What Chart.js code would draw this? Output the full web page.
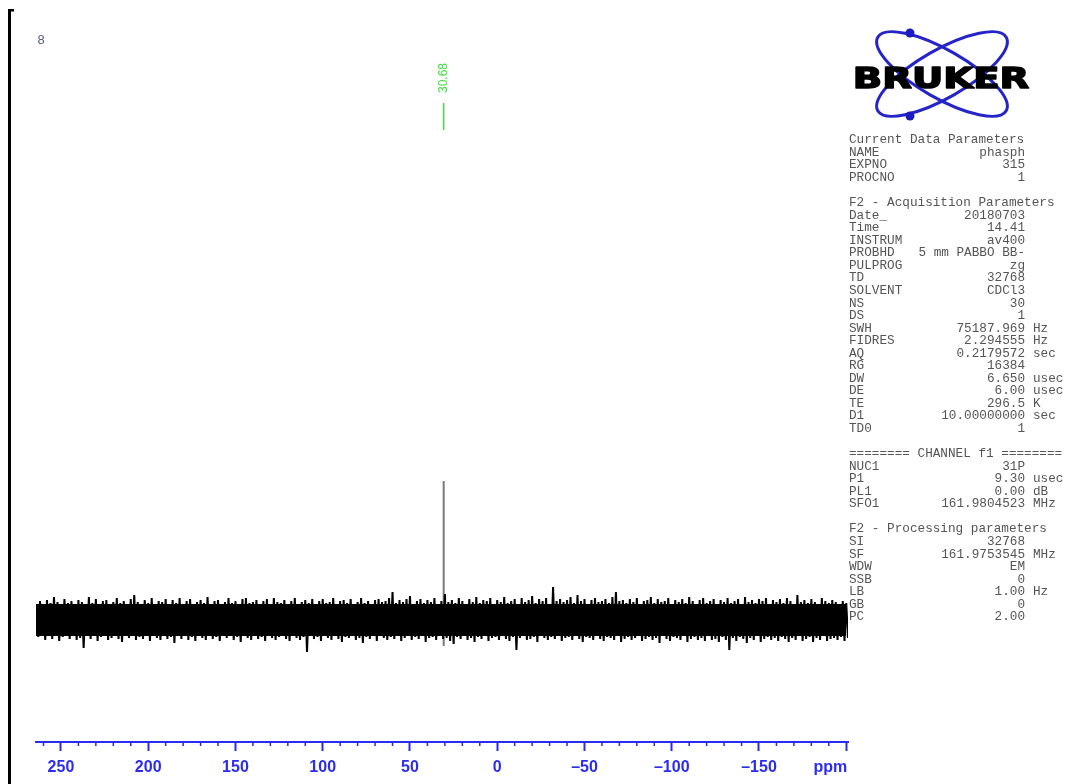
<!DOCTYPE html>
<html>
<head>
<meta charset="utf-8">
<script src="https://cdn.jsdelivr.net/npm/chart.js@4.4.1/dist/chart.umd.min.js"></script>
<style>
  html, body { margin: 0; padding: 0; background: #fff; }
  canvas { display: block; }
</style>
</head>
<body>
<canvas id="spectrum" width="1077" height="784"></canvas>
<script>
"use strict";

// ppm window of the plot (axis runs high -> low)
const ppmMax = 264.3;
const ppmMin = -201;

// noise band, one sample every 2 ppm from 264 down to -200
const noiseStart = 264;
const noiseStep = 2;
const noiseHi = [
    1.6, 1.9, 1.5, 2.0, 1.7, 2.3, 1.8, 1.6, 2.1, 1.7,
    1.9, 1.5, 2.0, 1.8, 1.6, 2.3, 1.7, 2.1, 1.6, 1.9,
    2.0, 1.5, 1.8, 2.2, 1.7, 1.9, 1.6, 2.1, 2.5, 1.8,
    1.6, 2.0, 1.7, 2.2, 1.5, 1.9, 1.8, 2.1, 1.6, 2.0,
    1.7, 2.2, 1.6, 1.9, 2.1, 1.5, 1.8, 2.0, 1.7, 2.3,
    1.6, 1.9, 2.0, 1.5, 1.8, 2.2, 1.7, 1.9, 1.6, 2.1,
    2.2, 1.7, 1.8, 2.0, 1.5, 1.9, 2.1, 1.6, 2.2, 1.8,
    1.7, 2.0, 1.6, 1.9, 2.2, 1.5, 1.8, 2.0, 1.7, 2.1,
    1.6, 1.9, 2.1, 1.7, 1.8, 2.2, 1.5, 1.9, 2.0, 1.7,
    2.1, 1.6, 1.8, 2.2, 1.7, 1.9, 1.6, 2.0, 2.1, 1.8,
    1.9, 2.2, 2.8, 1.7, 2.0, 1.8, 2.1, 2.4, 1.6, 1.9,
    2.1, 1.7, 2.0, 1.8, 2.2, 1.6, 1.9, 2.6, 1.8, 2.0,
    1.7, 2.2, 1.9, 1.6, 2.1, 1.8, 2.3, 1.7, 2.0, 1.9,
    2.2, 1.6, 2.0, 1.8, 2.3, 1.7, 1.9, 2.1, 1.6, 2.2,
    1.8, 2.0, 2.4, 1.7, 2.1, 1.9, 2.2, 1.6, 3.3, 1.9,
    2.1, 1.8, 2.0, 2.3, 1.7, 2.5, 1.9, 2.1, 1.6, 2.0,
    2.2, 1.8, 1.9, 2.1, 1.7, 2.3, 2.8, 1.9, 2.0, 1.7,
    2.1, 1.8, 2.2, 1.6, 1.9, 2.0, 2.3, 1.7, 2.1, 1.8,
    1.9, 2.2, 1.6, 2.0, 1.8, 2.1, 1.7, 2.3, 1.9, 1.6,
    2.0, 2.2, 1.7, 1.9, 2.1, 1.6, 2.0, 1.8, 2.2, 1.7,
    1.9, 2.1, 1.6, 2.3, 1.8, 2.0, 1.7, 2.1, 1.9, 2.2,
    1.6, 2.0, 1.8, 2.1, 1.7, 2.2, 1.9, 1.6, 2.5, 1.8,
    2.0, 1.7, 2.1, 1.8, 1.6, 2.2, 1.9, 1.7, 2.0, 1.8,
    1.6, 1.9, 1.7
];
const noiseLo = [
    -1.7, -1.5, -2.0, -1.6, -1.9, -1.4, -2.1, -1.7, -1.5, -1.9,
    -1.6, -2.0, -1.8, -2.8, -1.6, -1.9, -1.5, -2.1, -1.7, -1.6,
    -2.0, -1.8, -1.5, -1.9, -2.2, -1.6, -1.8, -1.5, -2.0, -1.7,
    -1.9, -1.6, -2.1, -1.5, -1.8, -2.0, -1.6, -1.9, -1.7, -2.3,
    -1.6, -1.9, -1.5, -2.0, -1.7, -2.1, -1.6, -1.8, -2.0, -1.5,
    -1.9, -1.7, -2.1, -1.6, -1.8, -1.5, -2.0, -1.7, -2.2, -1.6,
    -1.8, -2.0, -1.5, -1.9, -1.7, -2.1, -1.6, -1.8, -2.0, -1.7,
    -1.5, -1.9, -2.1, -1.6, -1.8, -2.0, -1.7, -3.2, -1.6, -1.9,
    -1.7, -2.1, -1.5, -1.8, -2.0, -1.6, -1.9, -2.2, -1.7, -1.8,
    -1.6, -2.0, -1.8, -2.3, -1.7, -1.9, -1.5, -2.1, -1.6, -1.8,
    -2.0, -1.7, -1.9, -1.6, -2.1, -1.8, -1.5, -2.0, -1.7, -1.9,
    -1.6, -2.2, -1.8, -1.7, -2.0, -1.6, -1.9, -1.8, -2.1, -2.4,
    -1.7, -1.9, -1.6, -2.0, -1.8, -2.2, -1.7, -1.9, -1.6, -2.1,
    -1.8, -1.7, -2.0, -1.6, -1.9, -2.1, -1.7, -3.0, -1.8, -1.6,
    -2.0, -1.9, -1.7, -2.2, -1.6, -1.8, -2.0, -1.7, -1.9, -1.6,
    -2.1, -1.8, -1.7, -2.0, -1.6, -1.9, -2.2, -1.7, -1.8, -2.0,
    -1.6, -1.9, -2.1, -1.7, -1.8, -2.0, -1.6, -2.2, -1.9, -1.7,
    -2.0, -1.8, -1.6, -2.1, -1.9, -1.7, -2.0, -1.8, -2.3, -1.6,
    -1.9, -2.1, -1.7, -1.8, -2.0, -1.6, -2.2, -1.9, -1.7, -2.0,
    -1.8, -2.1, -1.6, -2.0, -1.9, -2.2, -1.7, -2.0, -3.0, -1.8,
    -2.1, -1.7, -1.9, -2.3, -1.8, -2.0, -1.6, -2.2, -1.9, -1.7,
    -2.0, -1.8, -2.1, -1.7, -1.9, -2.2, -1.8, -2.0, -1.6, -2.1,
    -1.9, -1.7, -2.2, -1.8, -2.0, -1.6, -2.1, -1.9, -1.8, -2.0,
    -1.7, -2.1, -1.8
];
// the solid black core of the band
const coreTop = 1.6;
const coreBottom = -1.6;

// the one real signal
const peakPpm = 30.68;
const peakTop = 13.9;
const peakFoot = -2.6;
const peakLabel = "30.68";

const majorStep = 50;
const minorStep = 10;
const axisUnit = "ppm";
const pageNumber = "8";

const paramBlocks = [
    { title: "Current Data Parameters", rows: [
        ["NAME", "phasph", ""], ["EXPNO", "315", ""], ["PROCNO", "1", ""]] },
    { title: "F2 - Acquisition Parameters", rows: [
        ["Date_", "20180703", ""], ["Time", "14.41", ""], ["INSTRUM", "av400", ""],
        ["PROBHD", "5 mm PABBO BB-", ""], ["PULPROG", "zg", ""], ["TD", "32768", ""],
        ["SOLVENT", "CDCl3", ""], ["NS", "30", ""], ["DS", "1", ""],
        ["SWH", "75187.969", "Hz"], ["FIDRES", "2.294555", "Hz"], ["AQ", "0.2179572", "sec"],
        ["RG", "16384", ""], ["DW", "6.650", "usec"], ["DE", "6.00", "usec"],
        ["TE", "296.5", "K"], ["D1", "10.00000000", "sec"], ["TD0", "1", ""]] },
    { title: "======== CHANNEL f1 ========", rows: [
        ["NUC1", "31P", ""], ["P1", "9.30", "usec"], ["PL1", "0.00", "dB"],
        ["SFO1", "161.9804523", "MHz"]] },
    { title: "F2 - Processing parameters", rows: [
        ["SI", "32768", ""], ["SF", "161.9753545", "MHz"], ["WDW", "EM", ""],
        ["SSB", "0", ""], ["LB", "1.00", "Hz"], ["GB", "0", ""], ["PC", "2.00", ""]] }
];

const axisBlue = "#2b2bf2";

/**
 * extra drawing: minor ticks, unit label, peak label, page frame, logo and parameter list
 */
const decorations = {
    id: "decorations",
    afterDraw(chart) {
        const ctx = chart.ctx;
        const xs = chart.scales.x;
        const bottom = chart.chartArea.bottom;
        ctx.save();

        // minor ticks are shorter than the labelled ones
        ctx.strokeStyle = axisBlue;
        ctx.lineWidth = 1.5;
        xs.ticks.forEach(t => {
            if (t.value % majorStep !== 0) {
                const px = xs.getPixelForValue(t.value);
                ctx.beginPath();
                ctx.moveTo(px, bottom);
                ctx.lineTo(px, bottom + 4);
                ctx.stroke();
            }
        });
        // unit sits flush left of the last tick
        ctx.fillStyle = axisBlue;
        ctx.font = "bold 16px 'Liberation Sans'";
        ctx.textAlign = "right";
        ctx.textBaseline = "middle";
        ctx.fillText(axisUnit, xs.getPixelForValue(-200) + 1, 768);

        // peak label
        const peakX = xs.getPixelForValue(peakPpm);
        ctx.strokeStyle = "#3ee03e";
        ctx.lineWidth = 1.5;
        ctx.beginPath();
        ctx.moveTo(peakX, 103);
        ctx.lineTo(peakX, 130);
        ctx.stroke();
        ctx.save();
        ctx.translate(peakX, 78);
        ctx.rotate(-Math.PI / 2);
        ctx.fillStyle = "#3ee03e";
        ctx.font = "12px 'Liberation Sans'";
        ctx.textAlign = "center";
        ctx.textBaseline = "middle";
        ctx.fillText(peakLabel, 0, 0);
        ctx.restore();

        // page frame and page number
        ctx.fillStyle = "#000";
        ctx.fillRect(8, 9, 3, 775);
        ctx.fillRect(8, 9, 6, 2.5);
        ctx.fillStyle = "#55607a";
        ctx.font = "13px 'Liberation Sans'";
        ctx.textAlign = "center";
        ctx.textBaseline = "middle";
        ctx.fillText(pageNumber, 41, 40);

        // logo
        ctx.strokeStyle = "#2424c8";
        ctx.lineWidth = 3;
        [0.52, -0.52].forEach(a => {
            ctx.beginPath();
            ctx.ellipse(942, 74, 74, 24, a, 0, Math.PI * 2);
            ctx.stroke();
        });
        ctx.fillStyle = "#1c1cc0";
        [[910, 33], [910, 116]].forEach(p => {
            ctx.beginPath();
            ctx.arc(p[0], p[1], 4.5, 0, Math.PI * 2);
            ctx.fill();
        });
        ctx.save();
        ctx.translate(941, 88);
        ctx.scale(1.33, 1);
        ctx.fillStyle = "#000";
        ctx.strokeStyle = "#000";
        ctx.lineWidth = 1.5;
        ctx.lineJoin = "round";
        ctx.font = "bold 29px 'DejaVu Sans'";
        ctx.textAlign = "center";
        ctx.textBaseline = "alphabetic";
        ctx.strokeText("BRUKER", 0, 0);
        ctx.fillText("BRUKER", 0, 0);
        ctx.restore();

        // parameter listing
        ctx.fillStyle = "#555";
        ctx.font = "12.7px 'Liberation Mono'";
        ctx.textBaseline = "middle";
        let line = 0;
        paramBlocks.forEach(block => {
            ctx.textAlign = "left";
            ctx.fillText(block.title, 849, 140 + line * 12.55);
            line++;
            block.rows.forEach(r => {
                const y = 140 + line * 12.55;
                ctx.textAlign = "left";
                ctx.fillText(r[0], 849, y);
                ctx.textAlign = "right";
                ctx.fillText(r[1], 1025, y);
                if (r[2]) {
                    ctx.textAlign = "left";
                    ctx.fillText(r[2], 1033, y);
                }
                line++;
            });
            line++;
        });
        ctx.restore();
    }
};

// each sample drawn as a rise to its top value and a fall to its bottom value
const noisePoints = noiseHi.flatMap((h, i) => [
    { x: noiseStart - i * noiseStep, y: h },
    { x: noiseStart - i * noiseStep - noiseStep / 2, y: noiseLo[i] }
]);

new Chart(document.getElementById("spectrum"), {
    type: "line",
    data: {
        datasets: [
            {
                data: noisePoints,
                borderColor: "#000000",
                borderWidth: 2,
                pointRadius: 0,
                tension: 0,
                fill: false,
                order: 1
            },
            {
                data: [{ x: ppmMax, y: coreTop }, { x: ppmMin + 1, y: coreTop }],
                borderWidth: 0,
                pointRadius: 0,
                backgroundColor: "#000000",
                fill: { value: coreBottom },
                order: 2
            },
            {
                data: [{ x: peakPpm, y: peakFoot }, { x: peakPpm, y: peakTop }],
                borderColor: "#7a7a7a",
                borderWidth: 2,
                pointRadius: 0,
                fill: false,
                order: 3
            }
        ]
    },
    options: {
        responsive: false,
        animation: false,
        layout: { padding: { left: 36, right: 229, top: 20, bottom: 0 } },
        plugins: { legend: { display: false }, tooltip: { enabled: false } },
        scales: {
            x: {
                type: "linear",
                reverse: true,
                min: ppmMin,
                max: ppmMax,
                afterFit: s => { s.height = 42; },
                border: { display: true, color: axisBlue, width: 2 },
                grid: {
                    drawOnChartArea: false,
                    tickLength: 9,
                    tickWidth: 2,
                    tickColor: c => (c.tick && c.tick.value % majorStep === 0) ? axisBlue : "rgba(0,0,0,0)"
                },
                ticks: {
                    stepSize: minorStep,
                    includeBounds: false,
                    autoSkip: false,
                    maxRotation: 0,
                    minRotation: 0,
                    padding: 7,
                    color: axisBlue,
                    font: { family: "'Liberation Sans'", size: 16, weight: "bold" },
                    callback: v => {
                        if (v % majorStep !== 0 || v === -200) return "";
                        return v < 0 ? "\u2013" + Math.abs(v) : String(v);
                    }
                }
            },
            y: {
                display: false,
                min: -12.2,
                max: 60
            }
        }
    },
    plugins: [decorations]
});
</script>
</body>
</html>
